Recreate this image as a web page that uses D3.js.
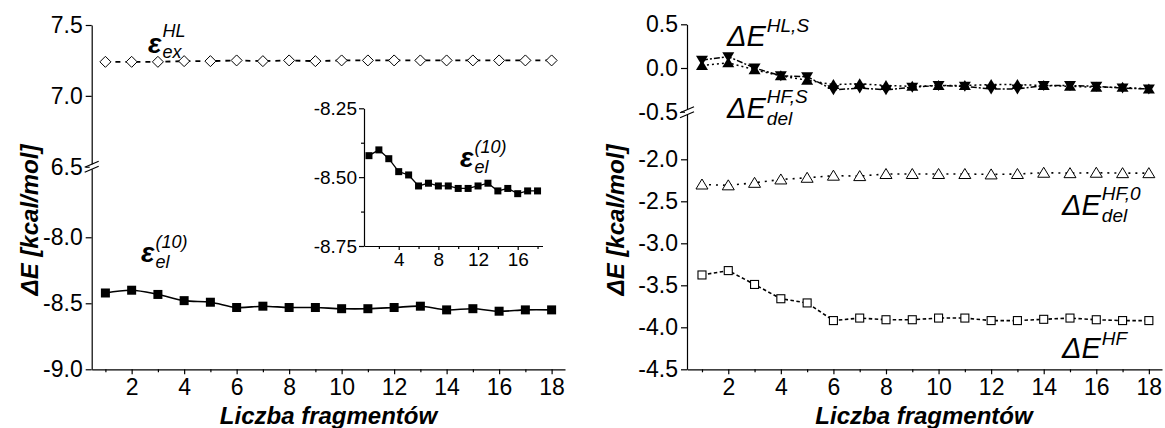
<!DOCTYPE html>
<html><head><meta charset="utf-8">
<script src="https://cdn.jsdelivr.net/npm/d3@7"></script>
<style>
html,body{margin:0;padding:0;background:#fff;}
svg{display:block;font-family:"Liberation Sans",Arial,sans-serif;}
</style></head>
<body><svg id="c" width="1165" height="428"></svg>
<script>
// ---------- DATA ----------
const fragments = [1,2,3,4,5,6,7,8,9,10,11,12,13,14,15,16,17,18];
const epsExHL = [7.24,7.24,7.24,7.245,7.245,7.25,7.245,7.25,7.245,7.25,7.25,7.25,7.25,7.25,7.25,7.25,7.25,7.25];
const epsEl10 = [-8.422,-8.401,-8.433,-8.480,-8.492,-8.532,-8.522,-8.532,-8.532,-8.541,-8.541,-8.532,-8.522,-8.550,-8.541,-8.560,-8.550,-8.550];
const dEHLS   = [0.09,0.13,0.00,-0.09,-0.10,-0.25,-0.23,-0.25,-0.22,-0.20,-0.21,-0.24,-0.24,-0.20,-0.20,-0.21,-0.23,-0.24];
const dEdelHFS= [0.03,0.06,-0.02,-0.09,-0.14,-0.19,-0.18,-0.20,-0.21,-0.20,-0.20,-0.19,-0.19,-0.20,-0.21,-0.22,-0.22,-0.24];
const dEdelHF0= [-2.30,-2.31,-2.28,-2.24,-2.22,-2.195,-2.20,-2.175,-2.175,-2.175,-2.175,-2.18,-2.175,-2.16,-2.165,-2.16,-2.165,-2.165];
const dEHF    = [-3.377,-3.325,-3.49,-3.66,-3.71,-3.92,-3.89,-3.91,-3.91,-3.89,-3.89,-3.92,-3.92,-3.905,-3.89,-3.91,-3.92,-3.92];
const leftUpperTicks = [6.5,7.0,7.5];
const leftLowerTicks = [-9.0,-8.5,-8.0];
const insetYTicks = [-8.75,-8.5,-8.25];
const insetXLabels = [4,8,12,16];
const rightUpperTicks = [-0.5,0.0,0.5];
const rightLowerTicks = [-4.5,-4.0,-3.5,-3.0,-2.5,-2.0];
const xLabelTicks = [2,4,6,8,10,12,14,16,18];
const xTitle = "Liczba fragmentów";
const yTitle = "ΔE [kcal/mol]";

// ---------- DRAW ----------
const svg = d3.select("#c");
const FONT = 23;

function styleAxis(g, fs){
  g.selectAll("text").attr("font-size", fs).attr("fill","#000")
   .attr("font-family",'"Liberation Sans",Arial,sans-serif');
  g.selectAll("line,path").attr("stroke","#000").attr("stroke-width",1.2);
}
function xAxis(x, y0, labels, major, minor, fs, pad){
  const g = svg.append("g").attr("transform",`translate(0,${y0})`)
    .call(d3.axisBottom(x).tickValues(fragments.filter(d=>d>=1))
      .tickFormat(d=> labels.includes(d) ? String(d) : "")
      .tickSize(major).tickSizeOuter(0).tickPadding(pad));
  g.selectAll(".tick").filter(d=>!labels.includes(d)).select("line").attr("y2", minor);
  styleAxis(g, fs);
  return g;
}
function yAxis(y, x0, ticks, fmt, fs){
  const g = svg.append("g").attr("transform",`translate(${x0},0)`)
    .call(d3.axisLeft(y).tickValues(ticks).tickFormat(fmt).tickSize(6).tickSizeOuter(0).tickPadding(3));
  styleAxis(g, fs);
  return g;
}
function breakMark(x0, yb){
  svg.append("rect").attr("x",x0-2).attr("y",yb-2.5).attr("width",4).attr("height",5).attr("fill","#fff");
  [-2.5,2.5].forEach(o=>{
    svg.append("line").attr("x1",x0-7).attr("x2",x0+7)
      .attr("y1",yb+o+3).attr("y2",yb+o-3)
      .attr("stroke","#000").attr("stroke-width",1.2);
  });
}
function label(x, y, main, sup, sub, opts){
  const o = Object.assign({mainSize:28, subSize:18, weight:"bold", subWeight:"normal", supDy:-15, subDy:5, gap:1}, opts||{});
  const t = svg.append("text").attr("x",x).attr("y",y)
    .attr("font-style","italic").attr("font-size",o.mainSize).attr("font-weight",o.weight).text(main);
  const w = t.node().getComputedTextLength();
  if(sup) svg.append("text").attr("x",x+w+o.gap).attr("y",y+o.supDy).attr("font-style","italic")
      .attr("font-size",o.subSize).attr("font-weight",o.subWeight).text(sup);
  if(sub) svg.append("text").attr("x",x+w+o.gap).attr("y",y+o.subDy).attr("font-style","italic")
      .attr("font-size",o.subSize).attr("font-weight",o.subWeight).text(sub);
}
const f1 = d=>d.toFixed(1), f2 = d=>d.toFixed(2);

// ===== LEFT PANEL =====
const xL = d3.scaleLinear().domain([0.478,18.51]).range([91.7,565]);
const yLU = d3.scaleLinear().domain([6.5,7.5]).range([166.7,25]);
const yLL = d3.scaleLinear().domain([-9.0,-7.47]).range([369.3,167.3]);
xAxis(xL, 369.3, xLabelTicks, 5, 3, FONT, 4);
yAxis(yLU, 91.7, leftUpperTicks, f1, FONT);
yAxis(yLL, 91.7, leftLowerTicks, f1, FONT);
breakMark(91.7, 166.8);

// diamonds series
const dataExHL = fragments.map((f,i)=>({x:f,y:epsExHL[i]}));
svg.append("path").datum(dataExHL)
  .attr("d", d3.line().x(d=>xL(d.x)).y(d=>yLU(d.y)))
  .attr("fill","none").attr("stroke","#000").attr("stroke-width",1.8).attr("stroke-dasharray","5,5");
svg.append("g").selectAll("path").data(dataExHL).join("path")
  .attr("transform",d=>`translate(${xL(d.x)},${yLU(d.y)})`)
  .attr("d","M0,-5.5L5.5,0L0,5.5L-5.5,0Z").attr("fill","#fff").attr("stroke","#000").attr("stroke-width",1);

// eps el main
const dataEl = fragments.map((f,i)=>({x:f,y:epsEl10[i]}));
svg.append("path").datum(dataEl)
  .attr("d", d3.line().curve(d3.curveCatmullRom.alpha(0.5)).x(d=>xL(d.x)).y(d=>yLL(d.y)))
  .attr("fill","none").attr("stroke","#000").attr("stroke-width",1.6);
svg.append("g").selectAll("rect").data(dataEl).join("rect")
  .attr("x",d=>xL(d.x)-4.5).attr("y",d=>yLL(d.y)-4.5).attr("width",9).attr("height",9).attr("fill","#000");

// inset
const xI = d3.scaleLinear().domain([0.5,18.5]).range([364,542.5]);
const yI = d3.scaleLinear().domain([-8.75,-8.25]).range([246,108.3]);
{
  const g = svg.append("g").attr("transform","translate(0,246)")
    .call(d3.axisBottom(xI).tickValues(fragments.filter(d=>d%2===0))
      .tickFormat(d=>insetXLabels.includes(d)?String(d):"").tickSize(4).tickSizeOuter(0).tickPadding(3));
  g.selectAll(".tick").filter(d=>!insetXLabels.includes(d)).select("line").attr("y2",3);
  styleAxis(g,19);
  const gy = svg.append("g").attr("transform","translate(364,0)")
    .call(d3.axisLeft(yI).tickValues([-8.75,-8.625,-8.5,-8.375,-8.25])
      .tickFormat(d=>insetYTicks.includes(d)?f2(d):"").tickSize(5).tickSizeOuter(0).tickPadding(2));
  gy.selectAll(".tick").filter(d=>!insetYTicks.includes(d)).select("line").attr("x2",-3);
  styleAxis(gy,19);
}
svg.append("path").datum(dataEl)
  .attr("d", d3.line().x(d=>xI(d.x)).y(d=>yI(d.y)))
  .attr("fill","none").attr("stroke","#000").attr("stroke-width",1.3);
svg.append("g").selectAll("rect").data(dataEl).join("rect")
  .attr("x",d=>xI(d.x)-3.5).attr("y",d=>yI(d.y)-3.5).attr("width",7).attr("height",7).attr("fill","#000");

// left labels
label(148, 53, "ε", "HL", "ex", {supDy:-16, subDy:5});
label(141, 262, "ε", "(10)", "el", {supDy:-14, subDy:6});
label(460, 167, "ε", "(10)", "el", {supDy:-14, subDy:6});

// titles
svg.append("text").attr("x",328.5).attr("y",424).attr("text-anchor","middle")
  .attr("font-size",24).attr("font-weight","bold").attr("font-style","italic").text(xTitle);
svg.append("text").attr("transform","translate(38,220) rotate(-90)").attr("text-anchor","middle")
  .attr("font-size",24).attr("font-weight","bold").attr("font-style","italic").text(yTitle);

// ===== RIGHT PANEL =====
const xR = d3.scaleLinear().domain([0.43,18.5]).range([687,1162]);
const yRU = d3.scaleLinear().domain([-0.5,0.5]).range([111.7,24.3]);
const yRL = d3.scaleLinear().domain([-4.5,-1.45]).range([369.3,113.1]);
xAxis(xR, 369.3, xLabelTicks, 5, 3, FONT, 4);
yAxis(yRU, 687, rightUpperTicks, f1, FONT);
yAxis(yRL, 687, rightLowerTicks, f1, FONT);
breakMark(687, 112.3);

const triUp = "M0,-5.5L6,4.5L-6,4.5Z", triDown = "M0,5.5L6,-4.5L-6,-4.5Z";
function series(vals, yS, dash, lw){
  const data = fragments.map((f,i)=>({x:f,y:vals[i]}));
  svg.append("path").datum(data)
    .attr("d", d3.line().x(d=>xR(d.x)).y(d=>yS(d.y)))
    .attr("fill","none").attr("stroke","#000").attr("stroke-width",lw).attr("stroke-dasharray",dash);
  return data;
}
const dHL = series(dEHLS, yRU, "6,2,2,2", 1.5);
const dHFS = series(dEdelHFS, yRU, "2,3", 1.5);
svg.append("g").selectAll("path").data(dHL).join("path")
  .attr("transform",d=>`translate(${xR(d.x)},${yRU(d.y)})`).attr("d",triDown).attr("fill","#000");
svg.append("g").selectAll("path").data(dHFS).join("path")
  .attr("transform",d=>`translate(${xR(d.x)},${yRU(d.y)})`).attr("d",triUp).attr("fill","#000");

const dHF0 = series(dEdelHF0, yRL, "2,5", 1.6);
svg.append("g").selectAll("path").data(dHF0).join("path")
  .attr("transform",d=>`translate(${xR(d.x)},${yRL(d.y)})`).attr("d",triUp)
  .attr("fill","#fff").attr("stroke","#000").attr("stroke-width",1);

const dHF = series(dEHF, yRL, "3.5,2.5", 1.6);
svg.append("g").selectAll("rect").data(dHF).join("rect")
  .attr("x",d=>xR(d.x)-4).attr("y",d=>yRL(d.y)-4).attr("width",8).attr("height",8)
  .attr("fill","#fff").attr("stroke","#000").attr("stroke-width",1.1);

// right labels
const ro = {mainSize:29, subSize:19, weight:"normal", gap:1};
label(727, 46, "ΔE", "HL,S", null, Object.assign({}, ro, {supDy:-14}));
label(727, 118, "ΔE", "HF,S", "del", Object.assign({}, ro, {supDy:-15, subDy:7}));
label(1062, 215, "ΔE", "HF,0", "del", Object.assign({}, ro, {supDy:-15, subDy:7}));
label(1062, 358, "ΔE", "HF", null, Object.assign({}, ro, {supDy:-13}));

svg.append("text").attr("x",924).attr("y",424).attr("text-anchor","middle")
  .attr("font-size",24).attr("font-weight","bold").attr("font-style","italic").text(xTitle);
svg.append("text").attr("transform","translate(624,220) rotate(-90)").attr("text-anchor","middle")
  .attr("font-size",24).attr("font-weight","bold").attr("font-style","italic").text(yTitle);
</script></body></html>
